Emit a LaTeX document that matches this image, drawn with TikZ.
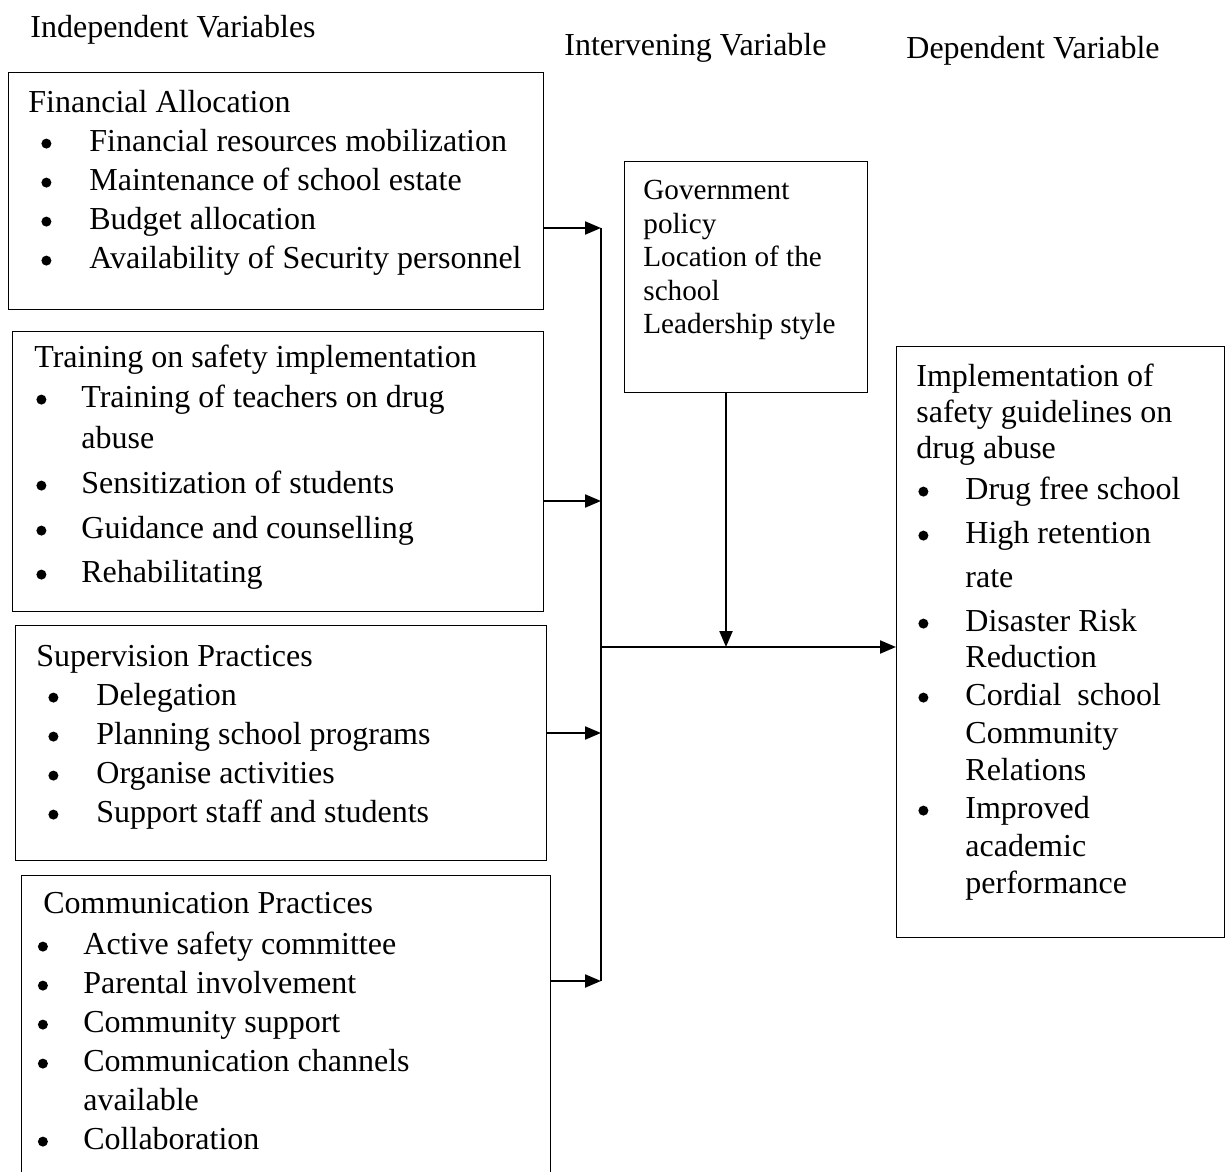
\documentclass[tikz,border=0pt]{standalone}
\usepackage{fontspec}
\setmainfont{Liberation Serif}
\usetikzlibrary{arrows.meta}
\usetikzlibrary{positioning}

\newcommand{\blt}{\raisebox{1.4pt}{\begin{pgfpicture}\pgftransformreset
  \pgfpathcircle{\pgfpoint{2.5pt}{2.5pt}}{2.5pt}\pgfusepath{fill}\end{pgfpicture}}}
\newcommand{\itm}[2]{\hspace*{#1}\makebox[#2][l]{\blt}}

\tikzset{
  box/.style={draw, line width=0.7pt, anchor=north west, inner sep=0pt},
  tbase/.style={anchor=north west, align=left, inner sep=0pt},
  txt/.style={tbase, yshift=13.65pt, font=\fontsize{16}{19.5}\selectfont},
  dtxt/.style={tbase, yshift=12.6pt, font=\fontsize{16}{18}\selectfont},
  gtxt/.style={tbase, yshift=11.76pt, font=\fontsize{14.6}{16.8}\selectfont},
  hdr/.style={anchor=base west, inner sep=0pt, font=\fontsize{16}{19.5}\selectfont},
  arr/.style={line width=1.1pt, -{Triangle[length=8pt,width=6.5pt]}}
}

\begin{document}
\begin{tikzpicture}[x=0.5pt, y=-0.5pt]
\useasboundingbox (0,0) rectangle (1227,1172);

% headings
\node[hdr] (hind) at (30,38) {Independent Variables};
\node[hdr] (hint) at (564,56) {Intervening Variable};
\node[hdr] (hdep) at (906,59) {Dependent Variable};

% boxes
\node[box, minimum width=267.5pt, minimum height=118.5pt] (fin) at (8,72) {};
\node[box, minimum width=265.5pt, minimum height=140pt] (trn) at (12,331) {};
\node[box, minimum width=265.5pt, minimum height=117.5pt] (sup) at (15,625) {};
\node[box, minimum width=264.5pt, minimum height=150.5pt] (com) at (21,875) {};
\node[box, minimum width=121.5pt, minimum height=115.5pt] (gov) at (624,161) {};
\node[box, minimum width=164pt, minimum height=295.5pt] (dep) at (896,346) {};

% texts
\node[txt] (tfin) at (28,112) {\strut Financial Allocation\\
  \itm{6.5pt}{24pt}Financial resources mobilization\\
  \itm{6.5pt}{24pt}Maintenance of school estate\\
  \itm{6.5pt}{24pt}Budget allocation\\
  \itm{6.5pt}{24pt}Availability of Security personnel};

\node[txt] (ttrn) at (34,367) {\strut Training on safety implementation\\[0.5pt]
  \itm{1pt}{22.5pt}Training of teachers on drug\\[1pt]
  \hspace*{23.5pt}abuse\\[3pt]
  \itm{1pt}{22.5pt}Sensitization of students\\[3pt]
  \itm{1pt}{22.5pt}Guidance and counselling\\[2.5pt]
  \itm{1pt}{22.5pt}Rehabilitating};

\node[txt] (tsup) at (36,666) {\strut Supervision Practices\\
  \itm{6pt}{24pt}Delegation\\
  \itm{6pt}{24pt}Planning school programs\\
  \itm{6pt}{24pt}Organise activities\\
  \itm{6pt}{24pt}Support staff and students};

\node[txt] (tcom) at (43,913) {\strut Communication Practices\\[1pt]
  \itm{-2.75pt}{22.75pt}Active safety committee\\
  \itm{-2.75pt}{22.75pt}Parental involvement\\
  \itm{-2.75pt}{22.75pt}Community support\\
  \itm{-2.75pt}{22.75pt}Communication channels\\
  \hspace*{20pt}available\\
  \itm{-2.75pt}{22.75pt}Collaboration};

\node[gtxt] (tgov) at (643,199) {\strut Government\\
  policy\\
  Location of the\\
  school\\
  Leadership style};

\node[dtxt] (tdep) at (916,386) {\strut Implementation of\\
  safety guidelines on\\
  drug abuse\\[2.5pt]
  \itm{1pt}{23.5pt}Drug free school\\[4pt]
  \itm{1pt}{23.5pt}High retention\\[4pt]
  \hspace*{24.5pt}rate\\[4pt]
  \itm{1pt}{23.5pt}Disaster Risk\\
  \hspace*{24.5pt}Reduction\\[1pt]
  \itm{1pt}{23.5pt}Cordial\ \ school\\[1pt]
  \hspace*{24.5pt}Community\\[0.5pt]
  \hspace*{24.5pt}Relations\\[1pt]
  \itm{1pt}{23.5pt}Improved\\[1pt]
  \hspace*{24.5pt}academic\\[0.5pt]
  \hspace*{24.5pt}performance};

% bus and arrows
\coordinate (b1) at (601,228);
\coordinate (b2) at (601,501);
\coordinate (b3) at (601,733);
\coordinate (b4) at (601,981);
\coordinate (bm) at (601,647);
\coordinate (j) at (726,647);

\draw[line width=1.1pt] (b1) -- (b4);
\draw[arr] (fin.east |- b1) -- (b1);
\draw[arr] (trn.east |- b2) -- (b2);
\draw[arr] (sup.east |- b3) -- (b3);
\draw[arr] (com.east |- b4) -- (b4);
\draw[arr] (bm) -- (dep.west |- bm);
\draw[arr] (gov.south -| j) -- (j);

\end{tikzpicture}
\end{document}
